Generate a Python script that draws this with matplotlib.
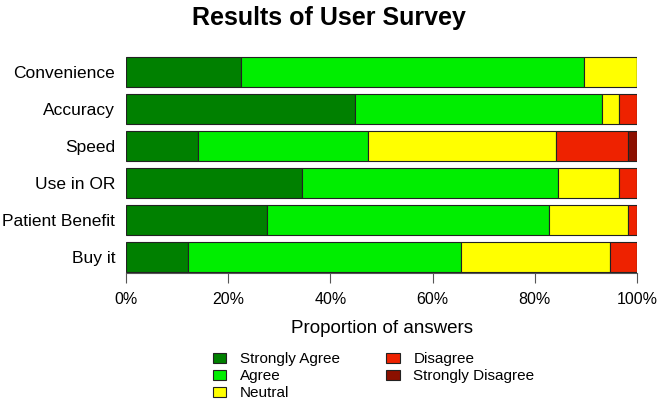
import numpy as np
import matplotlib
matplotlib.use('Agg')
import matplotlib.pyplot as plt
from matplotlib.patches import Patch

plt.rcParams['font.family'] = ['Liberation Sans', 'DejaVu Sans']

questions = ['Convenience', 'Accuracy', 'Speed', 'Use in OR', 'Patient Benefit', 'Buy it']
answers = ['Strongly Agree', 'Agree', 'Neutral', 'Disagree', 'Strongly Disagree']
colors = ['#008000', '#00EE00', '#FFFF00', '#EE2200', '#8B1000']

# proportions (%) per answer, one value per question
strongly_agree = [22.5, 44.8, 14.0, 34.5, 27.6, 12.1]
agree = [67.1, 48.3, 33.4, 50.0, 55.2, 53.4]
neutral = [10.4, 3.4, 36.7, 12.0, 15.4, 29.2]
disagree = [0.0, 3.5, 14.2, 3.5, 1.8, 5.3]
strongly_disagree = [0.0, 0.0, 1.7, 0.0, 0.0, 0.0]

series = [strongly_agree, agree, neutral, disagree, strongly_disagree]

fig = plt.figure(figsize=(6.57, 4.03), dpi=100)
ax = fig.add_axes([0.192, 0.3226, 0.7776, 0.5384])

y = np.arange(len(questions))
left = np.zeros(len(questions))
for vals, c in zip(series, colors):
    vals = np.array(vals) / 100.0
    ax.barh(y, vals, left=left, height=0.833, color=c, edgecolor='#222222', linewidth=0.8)
    left += vals

ax.set_ylim(len(questions) - 1 + 0.43, -0.43)
ax.set_xlim(0, 1)
ax.set_yticks(y)
ax.set_yticklabels(questions, fontsize=12.5)
ax.tick_params(axis='y', length=0, pad=8)
ax.set_xticks(np.linspace(0, 1, 6))
ax.set_xticklabels(['0%', '20%', '40%', '60%', '80%', '100%'], fontsize=11.5)
ax.tick_params(axis='x', length=7, width=0.8, color='#555555', pad=7)
for s in ['top', 'right', 'left']:
    ax.spines[s].set_visible(False)
ax.spines['bottom'].set_color('#555555')
ax.spines['bottom'].set_linewidth(0.8)
ax.set_xlabel('Proportion of answers', fontsize=13.5, labelpad=9)

fig.suptitle('Results of User Survey', fontsize=18, fontweight='bold', y=0.985)

handles = [Patch(facecolor=c, edgecolor='#222222', linewidth=0.8) for c in colors]
fig.legend(handles, answers, loc='upper left', bbox_to_anchor=(0.312, 0.145), ncol=2,
           frameon=False, fontsize=11, handlelength=0.9, handleheight=0.7,
           handletextpad=0.9, labelspacing=0.2, columnspacing=3.0, borderpad=0)

fig.savefig('out.png', dpi=100)
